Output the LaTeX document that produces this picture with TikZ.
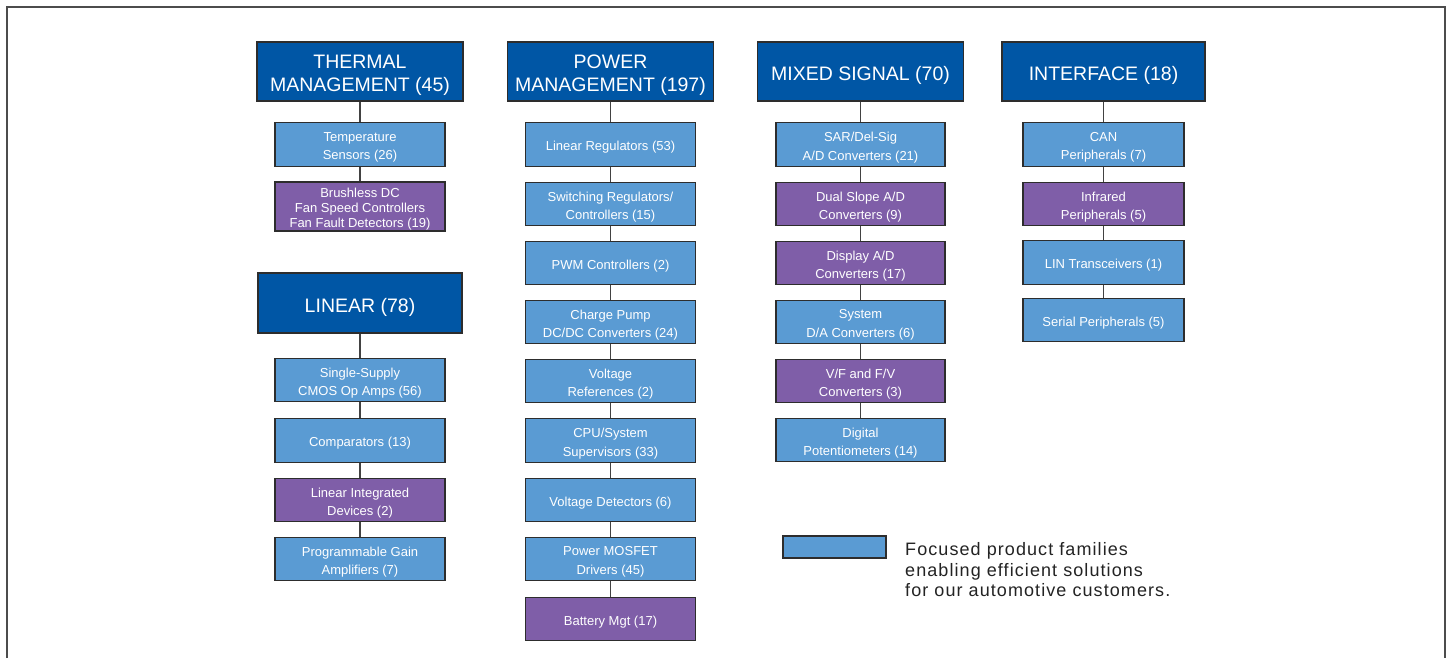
\documentclass[tikz,border=0pt]{standalone}
\usepackage{fontspec}
\setmainfont{Liberation Sans}
\definecolor{hdr}{RGB}{0,86,165}
\definecolor{lblue}{RGB}{90,155,211}
\definecolor{purp}{RGB}{127,94,168}
\definecolor{edge}{RGB}{45,45,45}
\definecolor{ink}{RGB}{35,35,35}
\begin{document}
\begin{tikzpicture}[x=1pt,y=-1pt,
  hlbl/.style={text=white,align=center,inner sep=0pt,yshift=-4pt,
    font=\fontsize{19.5}{23}\selectfont},
  slbl/.style={text=white,align=center,inner sep=0pt,yshift=-3pt,
    font=\fontsize{13}{18.5}\selectfont},
  hbox/.style={draw=edge,line width=1.4pt,fill=hdr,
    minimum width=206pt,minimum height=59pt,inner sep=0pt,
    label={[hlbl]center:{#1}}},
  sbox/.style={draw=edge,line width=1.3pt,fill=lblue,
    minimum width=170pt,minimum height=43.5pt,inner sep=0pt,
    label={[slbl]center:{#1}}},
  pbox/.style={sbox={#1},fill=purp},
  tbox/.style={draw=edge,line width=1.3pt,fill=purp,
    minimum width=170pt,minimum height=49pt,inner sep=0pt,
    label={[slbl,yshift=0.5pt,font=\fontsize{13}{15}\selectfont]center:{#1}}},
  link/.style={draw=edge!90,line width=1.1pt}]
\useasboundingbox (0,0) rectangle (1447,658);
\draw[edge!85,line width=1.6pt] (7,658) -- (7,7) -- (1445,7) -- (1445,658);
% Thermal
\node[hbox={THERMAL\\MANAGEMENT (45)}] (th) at (360,71.5) {};
\node[sbox={Temperature\\Sensors (26)}] (th1) at (360,144.5) {};
\node[tbox={Brushless DC\\Fan Speed Controllers\\Fan Fault Detectors (19)}] (th2) at (360,206.5) {};
% Linear
\node[hbox={LINEAR (78)},minimum width=204pt,minimum height=60pt] (li) at (360,303) {};
\node[sbox={Single-Supply\\CMOS Op Amps (56)}] (li1) at (360,380) {};
\node[sbox={Comparators (13)}] (li2) at (360,440.5) {};
\node[pbox={Linear Integrated\\Devices (2)}] (li3) at (360,500) {};
\node[sbox={Programmable Gain\\Amplifiers (7)}] (li4) at (360,559) {};
% Power
\node[hbox={POWER\\MANAGEMENT (197)}] (pw) at (610.5,71.5) {};
\node[sbox={Linear Regulators (53)}] (pw1) at (610.5,144.5) {};
\node[sbox={Switching Regulators/\\Controllers (15)}] (pw2) at (610.5,204) {};
\node[sbox={PWM Controllers (2)}] (pw3) at (610.5,263) {};
\node[sbox={Charge Pump\\DC/DC Converters (24)}] (pw4) at (610.5,322) {};
\node[sbox={Voltage\\References (2)}] (pw5) at (610.5,381) {};
\node[sbox={CPU/System\\Supervisors (33)}] (pw6) at (610.5,440.5) {};
\node[sbox={Voltage Detectors (6)}] (pw7) at (610.5,500) {};
\node[sbox={Power MOSFET\\Drivers (45)}] (pw8) at (610.5,559) {};
\node[pbox={Battery Mgt (17)}] (pw9) at (610.5,619) {};
% Mixed
\node[hbox={MIXED SIGNAL (70)}] (mx) at (860.5,71.5) {};
\node[sbox={SAR/Del-Sig\\A/D Converters (21)},minimum width=169pt] (mx1) at (860.5,144.5) {};
\node[pbox={Dual Slope A/D\\Converters (9)},minimum width=169pt] (mx2) at (860.5,204) {};
\node[pbox={Display A/D\\Converters (17)},minimum width=169pt] (mx3) at (860.5,263) {};
\node[sbox={System\\D/A Converters (6)},minimum width=169pt] (mx4) at (860.5,322) {};
\node[pbox={V/F and F/V\\Converters (3)},minimum width=169pt] (mx5) at (860.5,381) {};
\node[sbox={Digital\\Potentiometers (14)},minimum width=169pt] (mx6) at (860.5,440) {};
% Interface
\node[hbox={INTERFACE (18)},minimum width=203pt] (inf) at (1103.5,71.5) {};
\node[sbox={CAN\\Peripherals (7)},minimum width=161pt] (if1) at (1103.5,144.5) {};
\node[pbox={Infrared\\Peripherals (5)},minimum width=161pt] (if2) at (1103.5,204) {};
\node[sbox={LIN Transceivers (1)},minimum width=161pt] (if3) at (1103.5,262.5) {};
\node[sbox={Serial Peripherals (5)},minimum width=161pt] (if4) at (1103.5,320) {};
% connectors
\foreach \a/\b in {th/th1,th1/th2,li/li1,li1/li2,li2/li3,li3/li4,
  pw/pw1,pw1/pw2,pw2/pw3,pw3/pw4,pw4/pw5,pw5/pw6,pw6/pw7,pw7/pw8,pw8/pw9,
  mx/mx1,mx1/mx2,mx2/mx3,mx3/mx4,mx4/mx5,mx5/mx6,
  inf/if1,if1/if2,if2/if3,if3/if4}
  \draw[link] (\a.south) -- (\b.north);
% legend
\node[draw=edge,line width=1.3pt,fill=lblue,minimum width=103pt,minimum height=22pt,inner sep=0pt] (leg) at (834.5,547) {};
\node[anchor=north west,align=left,text=ink,inner sep=0pt,
  font=\addfontfeatures{LetterSpace=6}\fontsize{18}{20.5}\selectfont] (legtext) at (905,542.5)
  {Focused product families\\enabling efficient solutions\\for our automotive customers.};
\end{tikzpicture}
\end{document}
